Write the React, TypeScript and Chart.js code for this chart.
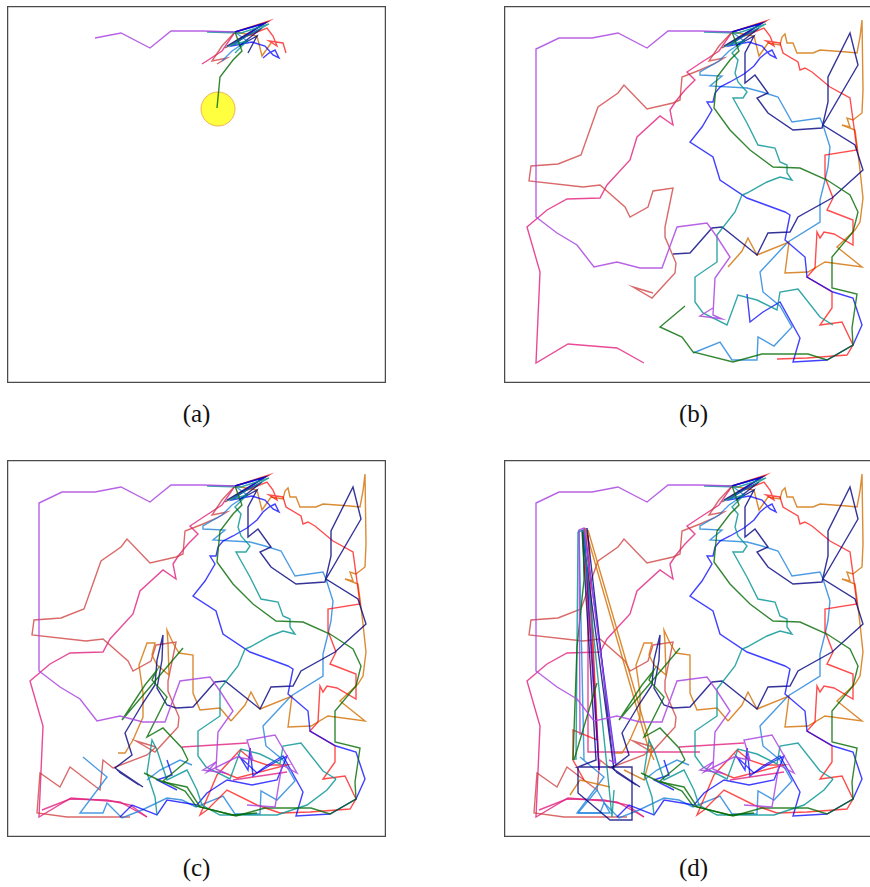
import React, { useEffect, useRef } from "react";
import { Chart, registerables } from "chart.js";

Chart.register(...registerables);

// Panel coordinate system: x 0..379, y 0..377 (y measured downward from the top of the box)
const pathPurple = [[228,26],[196,25],[164,25],[143,42],[114,27],[88,32],[55,32],[32,43],[32,211],[53,227],[73,239],[90,261],[113,256],[136,262],[158,262],[173,221],[203,217],[213,231],[226,251],[211,272],[209,309],[218,313],[196,310],[209,302]];
const pathGreen = [[228,26],[235,45],[226,54],[213,71],[210,102],[226,124],[246,144],[269,161],[296,162],[323,174],[346,189],[354,206],[349,226],[328,251],[328,282],[353,288],[348,322],[349,339],[323,354],[304,348],[258,348],[229,356],[189,346],[178,331],[156,321],[181,300]];
const pathTeal = [[228,26],[200,26],[234,27],[262,18],[222,40],[240,35],[228,47],[234,54],[231,67],[234,76],[243,86],[239,92],[229,92],[243,117],[254,139],[271,142],[276,156],[283,159],[283,167],[288,174],[276,171],[263,176],[243,187],[238,189],[231,206],[213,229],[213,256],[191,271],[191,296],[199,307],[223,319],[234,289],[253,294],[273,304],[276,286],[294,283],[316,311],[329,319]];
const pathBlue = [[228,26],[256,18],[225,40],[245,36],[258,40],[266,49],[272,52],[268,44],[262,47],[256,52],[250,60],[240,68],[226,76],[216,81],[211,87],[209,96],[203,96],[208,104],[198,121],[186,136],[209,151],[216,174],[243,192],[281,206],[286,209],[281,234],[301,251],[303,271],[329,286],[349,292],[358,319],[349,339],[323,354],[289,356],[296,332],[276,296],[259,306],[246,316],[243,288]];
const pathNavy = [[228,26],[258,17],[220,40],[255,22],[232,40],[250,30],[241,47],[241,77],[251,69],[264,87],[253,92],[264,107],[289,124],[318,122],[324,96],[324,71],[346,27],[354,59],[319,119],[351,139],[359,164],[328,192],[294,211],[286,226],[264,227],[253,249],[218,221],[208,222],[186,247],[169,248]];
const pathRed = [[228,26],[262,15],[218,42],[240,30],[260,22],[266,30],[270,40],[262,35],[276,37],[279,47],[294,56],[296,64],[301,62],[308,66],[326,81],[346,92],[349,114],[353,144],[321,149],[321,171],[329,192],[323,204],[349,214],[349,239],[330,228],[320,226],[316,232],[313,226],[311,262],[303,271],[328,286],[328,302],[316,319],[338,316],[349,339],[343,349],[303,352],[273,353]];
const pathOrange = [[228,26],[250,30],[255,50],[264,37],[276,39],[278,31],[281,28],[283,37],[289,37],[293,47],[309,47],[316,44],[343,46],[353,47],[356,31],[358,14],[359,84],[358,107],[349,114],[343,112],[346,121],[338,119],[351,124],[353,139],[356,164],[359,192],[356,216],[351,224],[333,241],[358,261],[321,256],[304,266],[281,267],[285,236],[253,249],[244,232],[238,245],[224,261]];
const pathLightBlue = [[228,26],[240,35],[225,45],[215,55],[196,66],[196,69],[218,70],[206,80],[243,82],[258,86],[274,91],[288,116],[316,112],[319,119],[326,141],[324,161],[321,174],[316,194],[316,216],[284,236],[256,266],[259,286],[276,300],[288,321],[270,340],[254,331],[253,354],[228,354],[216,336],[189,347]];
const pathSalmon = [[228,26],[215,40],[205,55],[220,52],[210,58],[196,64],[178,71],[176,94],[169,97],[143,103],[120,79],[114,87],[94,101],[77,149],[54,158],[27,160],[25,175],[79,181],[96,179],[121,201],[126,211],[144,201],[149,185],[169,182],[161,221],[161,231],[172,257],[171,267],[148,292],[129,281],[149,287]];
const pathPink = [[228,26],[215,45],[195,58],[183,66],[191,74],[181,84],[172,95],[166,104],[169,119],[156,110],[133,131],[126,154],[103,179],[96,192],[63,193],[43,204],[23,221],[36,266],[32,357],[64,338],[113,342],[140,357]];

// number of points of each path visible in panel (a)
const countA = { purple: 6, green: 5, teal: 7, blue: 10, navy: 7, red: 10, orange: 4, lightblue: 4, salmon: 5, pink: 3 };

// further strokes added in panel (c)
const extCPurple = [[[209,302],[200,312],[230,297],[246,300],[240,280],[268,275],[290,313],[275,305],[268,347],[240,345]]];
const extCGreen = [[[181,300],[175,288],[156,268],[140,277],[160,237],[145,220],[150,210],[138,225],[115,260],[176,188]],[[137,313],[156,322],[180,327],[193,347],[226,355],[250,353]]];
const extCTeal = [[[329,319],[320,330],[300,345],[270,355],[240,355],[213,355],[195,345],[190,330],[180,310],[160,320],[150,290],[145,280],[140,313],[148,337],[150,355]]];
const extCBlue = [[[243,288],[241,310],[233,297],[250,313],[267,303],[280,296],[270,320],[245,325],[220,320],[200,333],[190,345],[160,340],[150,355],[125,345],[113,357]],[[160,300],[165,315],[150,320],[170,330]]];
const extCNavy = [[[169,248],[160,245],[150,228],[155,200],[156,175],[150,200],[148,225],[136,243],[118,273],[125,295],[108,308],[136,327],[112,312],[132,325],[110,310]]];
const extCRed = [[[273,353],[250,345],[220,330],[200,350],[193,355],[210,315],[233,290],[245,300],[260,305],[280,305],[230,318],[215,312]]];
const extCOrange = [[[224,261],[213,248],[193,250],[186,233],[186,195],[172,193],[166,183],[160,170],[161,183],[162,215],[150,205],[145,195],[148,183],[140,183],[132,205],[136,233],[136,257],[126,280],[118,293],[111,293]]];
const extCLightBlue = [[[189,347],[175,340],[160,338],[135,350],[115,358],[100,343],[96,353],[73,353],[100,317],[76,297]],[[140,320],[153,310],[173,300],[185,305]]];
const extCSalmon = [[[149,287],[140,295],[106,308],[96,300],[93,330],[63,307],[53,327],[33,313],[30,353],[60,357],[123,357]]];
const extCPink = [[[140,357],[123,345],[100,340],[63,339],[35,350]],[[175,287],[240,283]],[[226,320],[280,312]]];

// further strokes added in panel (d)
const extDPurple = [[[76,275],[75,70],[80,68],[111,303],[105,300]]];
const extDGreen = [[[69,300],[73,187],[80,120],[79,72]],[[93,223],[70,300]]];
const extDTeal = [[[72,300],[74,72],[79,70],[108,357],[110,330]]];
const extDBlue = [[[95,310],[80,68],[112,305]]];
const extDNavy = [[[83,68],[110,310],[78,70],[92,300],[74,307],[128,307],[128,360],[106,360],[74,333],[74,307]]];
const extDRed = [[[79,70],[93,280],[69,270],[69,300],[80,320]],[[84,75],[95,310]]];
const extDOrange = [[[81,68],[144,287],[150,300]],[[84,70],[148,290],[140,320],[120,310]],[[66,335],[76,320],[106,327]]];
const extDLightBlue = [[[74,353],[93,330],[106,353],[74,353]],[[75,70],[80,300]]];
const extDSalmon = [[[82,68],[95,305]]];
const extDPink = [[[84,107],[84,292],[196,292]]];

// target marker in panel (a)
const targetPoint = [[211, 103]];

const colors = {
  purple: "rgba(170,70,225,0.85)",
  green: "rgba(0,105,0,0.8)",
  teal: "rgba(0,145,145,0.8)",
  blue: "rgba(0,0,255,0.75)",
  navy: "rgba(0,0,128,0.8)",
  red: "rgba(255,0,0,0.7)",
  orange: "rgba(210,110,0,0.8)",
  lightblue: "rgba(30,130,220,0.8)",
  salmon: "rgba(205,55,55,0.75)",
  pink: "rgba(225,30,125,0.8)",
};

const tracks = [
  { key: "purple", path: pathPurple, c: extCPurple, d: extDPurple },
  { key: "green", path: pathGreen, c: extCGreen, d: extDGreen },
  { key: "teal", path: pathTeal, c: extCTeal, d: extDTeal },
  { key: "blue", path: pathBlue, c: extCBlue, d: extDBlue },
  { key: "navy", path: pathNavy, c: extCNavy, d: extDNavy },
  { key: "red", path: pathRed, c: extCRed, d: extDRed },
  { key: "orange", path: pathOrange, c: extCOrange, d: extDOrange },
  { key: "lightblue", path: pathLightBlue, c: extCLightBlue, d: extDLightBlue },
  { key: "salmon", path: pathSalmon, c: extCSalmon, d: extDSalmon },
  { key: "pink", path: pathPink, c: extCPink, d: extDPink },
];

const W = 379;
const H = 377;

const toXY = (pts) => pts.map(([x, y]) => ({ x, y }));

function lineDs(pts, color) {
  return {
    data: toXY(pts),
    showLine: true,
    borderColor: color,
    backgroundColor: color,
    borderWidth: 1.4,
    pointRadius: 0,
    tension: 0,
    fill: false,
  };
}

function buildDatasets(stage) {
  const ds = [];
  tracks.forEach((t) => {
    const col = colors[t.key];
    const pts = stage === "a" ? t.path.slice(0, countA[t.key]) : t.path;
    ds.push(lineDs(pts, col));
    if (stage === "c" || stage === "d") t.c.forEach((s) => ds.push(lineDs(s, col)));
    if (stage === "d") t.d.forEach((s) => ds.push(lineDs(s, col)));
  });
  if (stage === "a") {
    ds.push({
      data: toXY(targetPoint),
      showLine: false,
      pointRadius: 17,
      pointBackgroundColor: "rgba(255,255,30,0.85)",
      pointBorderColor: "rgba(235,160,70,0.8)",
      pointBorderWidth: 1,
      order: 100,
    });
  }
  return ds;
}

const borderPlugin = {
  id: "boxBorder",
  afterDraw(chart) {
    const ctx = chart.ctx;
    ctx.save();
    ctx.strokeStyle = "#4a4a4a";
    ctx.lineWidth = 1.3;
    ctx.strokeRect(0.6, 0.6, chart.width - 1.2, chart.height - 1.2);
    ctx.restore();
  },
};

function Panel({ stage, left, top }) {
  const ref = useRef(null);
  useEffect(() => {
    const chart = new Chart(ref.current, {
      type: "scatter",
      data: { datasets: buildDatasets(stage) },
      options: {
        responsive: false,
        animation: false,
        events: [],
        layout: { padding: 0, autoPadding: false },
        plugins: { legend: { display: false }, tooltip: { enabled: false } },
        scales: {
          x: { type: "linear", min: 0, max: W, display: false },
          y: { type: "linear", min: 0, max: H, reverse: true, display: false },
        },
      },
      plugins: [borderPlugin],
    });
    return () => chart.destroy();
  }, [stage]);
  return (
    <canvas
      ref={ref}
      width={W}
      height={H}
      style={{ position: "absolute", left, top, width: W, height: H }}
    />
  );
}

const captionStyle = (left, top) => ({
  position: "absolute",
  left,
  top,
  width: W,
  textAlign: "center",
  fontFamily: "'Liberation Serif', 'DejaVu Serif', serif",
  fontSize: 25,
  lineHeight: "25px",
  color: "#111",
});

export default function App() {
  return (
    <div
      style={{
        position: "fixed",
        left: 0,
        top: 0,
        width: 870,
        height: 887,
        overflow: "hidden",
        background: "#fff",
      }}
    >
      <Panel stage="a" left={7} top={6} />
      <Panel stage="b" left={504} top={6} />
      <Panel stage="c" left={7} top={460} />
      <Panel stage="d" left={504} top={460} />
      <div style={captionStyle(7, 401)}>(a)</div>
      <div style={captionStyle(504, 401)}>(b)</div>
      <div style={captionStyle(7, 855)}>(c)</div>
      <div style={captionStyle(504, 855)}>(d)</div>
    </div>
  );
}
